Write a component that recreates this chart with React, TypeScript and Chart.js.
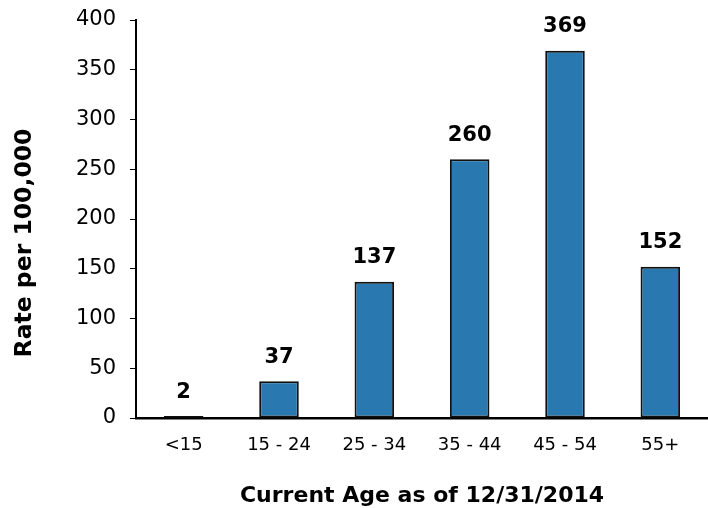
import React, { useEffect, useRef } from "react";
import { Chart, registerables } from "chart.js";

Chart.register(...registerables);

const ageGroups = ["<15", "15 - 24", "25 - 34", "35 - 44", "45 - 54", "55+"];
const rates = [2, 37, 137, 260, 369, 152];
const yMin = 0;
const yMax = 400;
const yStep = 50;
const xTitle = "Current Age as of 12/31/2014";
const yTitle = "Rate per 100,000";

const FONT = '"DejaVu Sans", Verdana, sans-serif';

const labelPlugin = {
  id: "valueLabelsAndTitles",
  afterDraw(chart: any) {
    const ctx = chart.ctx;
    const meta = chart.getDatasetMeta(0);
    ctx.save();
    ctx.fillStyle = "#000";
    ctx.font = `bold 21px ${FONT}`;
    ctx.textAlign = "center";
    ctx.textBaseline = "alphabetic";
    meta.data.forEach((bar: any, i: number) => {
      ctx.fillText(String(rates[i]), bar.x, bar.y - 18.5);
    });
    const area = chart.chartArea;
    // x title
    ctx.font = `bold 22px ${FONT}`;
    ctx.fillText(xTitle, (area.left + area.right) / 2, 501.5);
    // y title
    ctx.translate(31, 243);
    ctx.rotate(-Math.PI / 2);
    ctx.font = `bold 23.5px ${FONT}`;
    ctx.fillText(yTitle, 0, 0);
    ctx.restore();
  },
};

export default function App() {
  const ref = useRef<HTMLCanvasElement | null>(null);
  useEffect(() => {
    if (!ref.current) return;
    const chart = new Chart(ref.current, {
      type: "bar",
      data: {
        labels: ageGroups,
        datasets: [
          {
            data: rates,
            backgroundColor: "#2a78b0",
            borderColor: "#111111",
            borderWidth: 2,
            borderSkipped: false,
            categoryPercentage: 1,
            barPercentage: 0.415,
          },
        ],
      },
      options: {
        animation: false,
        responsive: true,
        maintainAspectRatio: false,
        layout: { padding: { top: 20, left: 0, right: 0, bottom: 0 } },
        plugins: {
          legend: { display: false },
          tooltip: { enabled: false },
          title: { display: false },
        },
        scales: {
          x: {
            grid: { display: false, drawTicks: false },
            border: { display: true, color: "#000", width: 2.5 },
            ticks: {
              color: "#000",
              padding: 17,
              font: { family: FONT, size: 18 },
              maxRotation: 0,
              autoSkip: false,
            },
            afterFit: (s: any) => {
              s.height = 90;
            },
          },
          y: {
            min: yMin,
            max: yMax,
            grid: {
              display: true,
              drawOnChartArea: false,
              drawTicks: true,
              tickLength: 6,
              color: "#000",
              lineWidth: 1,
            },
            border: { display: true, color: "#000", width: 2 },
            ticks: {
              stepSize: yStep,
              color: "#000",
              padding: 14,
              font: { family: FONT, size: 21 },
            },
            afterFit: (s: any) => {
              s.width = 136;
              s.paddingTop = 0;
              s.paddingBottom = 0;
            },
          },
        },
      },
      plugins: [labelPlugin],
    });
    return () => chart.destroy();
  }, []);
  return (
    <div style={{ position: "absolute", left: 0, top: 0, width: 708, height: 508, background: "#fff" }}>
      <canvas ref={ref} />
    </div>
  );
}
